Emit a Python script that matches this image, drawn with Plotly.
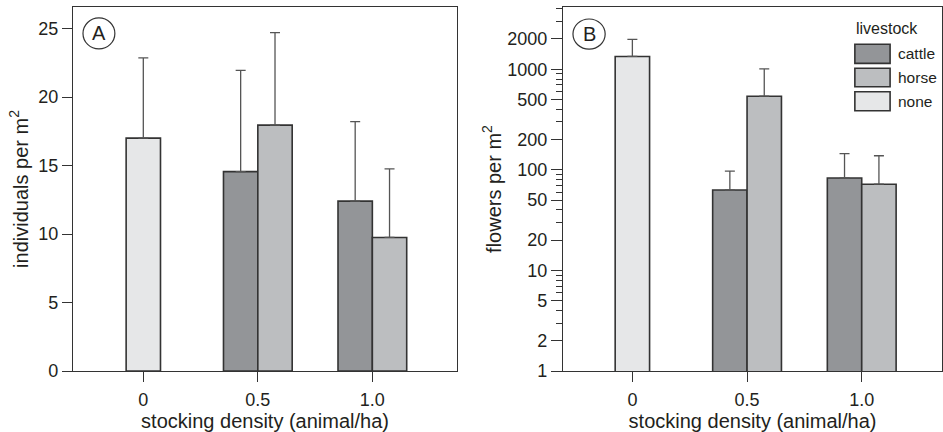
import plotly.graph_objects as go

# ---- data ----
density = [0.5, 1.0]          # stocking density for grazed plots
density_none = [0]            # ungrazed control
livestock = ["cattle", "horse", "none"]
tick_vals = [0, 0.5, 1.0]
tick_text = ["0", "0.5", "1.0"]

# Panel A: individuals per m2 (mean, upper error)
A_cattle = [14.55, 12.4]
A_cattle_err = [7.4, 5.8]
A_horse = [17.95, 9.75]
A_horse_err = [6.75, 5.0]
A_none = [17.0]
A_none_err = [5.85]

# Panel B: flowers per m2 (mean, upper error)
B_cattle = [63, 83]
B_cattle_err = [34, 62]
B_horse = [540, 72]
B_horse_err = [470, 66]
B_none = [1340]
B_none_err = [640]

B_ticks = [1, 2, 5, 10, 20, 50, 100, 200, 500, 1000, 2000]

# ---- styles ----
colors = {"cattle": "#939598", "horse": "#bcbec0", "none": "#e6e7e8"}
offsets = {"cattle": -0.15, "horse": 0.0, "none": -0.075}
BW = 0.15
LINE = "#333333"
TXT = "#231f20"
FONT = "Liberation Sans, Arial, sans-serif"

fig = go.Figure()

def add_bars(x, y, err, name, xa, ya):
    fig.add_trace(go.Bar(
        x=x, y=y, name=name, width=BW, offset=offsets[name],
        marker=dict(color=colors[name], line=dict(color=LINE, width=1.6)),
        error_y=dict(type="data", array=err, arrayminus=[0] * len(err), symmetric=False,
                     color="#555555", thickness=1.3, width=5),
        xaxis=xa, yaxis=ya, showlegend=False,
    ))

add_bars(density_none, A_none, A_none_err, "none", "x", "y")
add_bars(density, A_cattle, A_cattle_err, "cattle", "x", "y")
add_bars(density, A_horse, A_horse_err, "horse", "x", "y")
add_bars(density_none, B_none, B_none_err, "none", "x2", "y2")
add_bars(density, B_cattle, B_cattle_err, "cattle", "x2", "y2")
add_bars(density, B_horse, B_horse_err, "horse", "x2", "y2")

axis_common = dict(showline=True, linecolor=LINE, linewidth=1.3, mirror=True,
                   ticks="outside", tickcolor=LINE, tickwidth=1.3, showgrid=False,
                   zeroline=False, tickfont=dict(size=18, color=TXT, family=FONT))
title_font = dict(size=20, color=TXT, family=FONT)
xcommon = dict(axis_common, tickvals=tick_vals, ticktext=tick_text, ticklen=10,
               ticklabelstandoff=2,
               title=dict(text="stocking density (animal/ha)", font=title_font, standoff=4))

fig.update_layout(
    width=943, height=432,
    margin=dict(l=73, r=1, t=7, b=61),
    paper_bgcolor="white", plot_bgcolor="white",
    barmode="overlay",
    font=dict(family=FONT, color=TXT),
    xaxis=dict(xcommon, domain=[0, 0.442], range=[-0.307, 1.37]),
    xaxis2=dict(xcommon, domain=[0.564, 1], range=[-0.302, 1.35], anchor="y2"),
    yaxis=dict(axis_common, range=[0, 26.57], tickvals=[0, 5, 10, 15, 20, 25], ticklen=10,
               title=dict(text="individuals per m<sup>2</sup>", font=title_font, standoff=4)),
    yaxis2=dict(axis_common, type="log", range=[0, 3.619], anchor="x2", tickvals=B_ticks,
                ticktext=[str(v) for v in B_ticks], ticklen=11,
                minor=dict(dtick="D1", ticks="outside", ticklen=6, tickcolor=LINE, tickwidth=1.2),
                title=dict(text="flowers per m<sup>2</sup>", font=title_font, standoff=0)),
)

# panel labels (circled letters)
panels = [("x", "y", "A", 0.026, 0.109, 0.970, 0.885),
          ("x2", "y2", "B", 0.026, 0.111, 0.967, 0.884)]
for xr, yr, letter, cx0, cx1, cy1, cy0 in panels:
    fig.add_shape(type="circle", xref=f"{xr} domain", yref=f"{yr} domain",
                  x0=cx0, x1=cx1, y0=cy0, y1=cy1, line=dict(color=LINE, width=1.2))
    fig.add_annotation(text=letter, xref=f"{xr} domain", yref=f"{yr} domain",
                       x=(cx0 + cx1) / 2, y=(cy0 + cy1) / 2, xanchor="center", yanchor="middle",
                       showarrow=False, font=dict(size=20, family=FONT, color=TXT))

# custom legend in panel B
fig.add_annotation(text="livestock", xref="x2 domain", yref="y2 domain", x=0.768, y=0.9415,
                   xanchor="left", yanchor="middle", showarrow=False,
                   font=dict(size=16, family=FONT, color=TXT))
rows = [(0.8975, 0.845), (0.8316, 0.781), (0.767, 0.715)]
for name, (ytop, ybot) in zip(livestock, rows):
    fig.add_shape(type="rect", xref="x2 domain", yref="y2 domain", x0=0.770, x1=0.863,
                  y0=ybot, y1=ytop, fillcolor=colors[name], line=dict(color=LINE, width=1.6))
    fig.add_annotation(text=name, xref="x2 domain", yref="y2 domain", x=0.878, y=(ytop + ybot) / 2,
                       xanchor="left", yanchor="middle", showarrow=False,
                       font=dict(size=15.5, family=FONT, color=TXT))

fig.write_html("out.html")
